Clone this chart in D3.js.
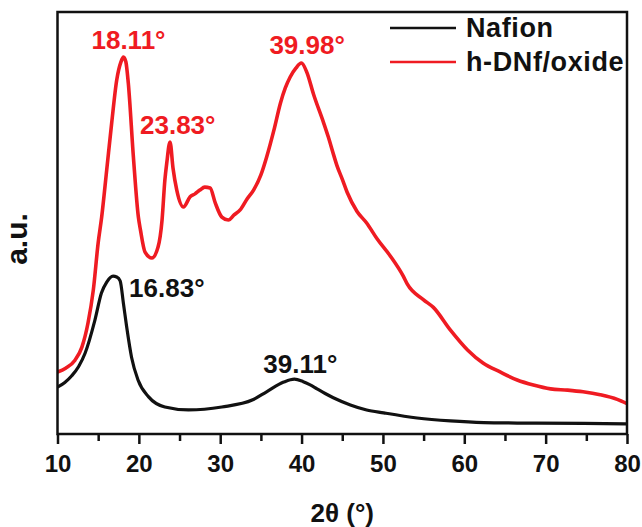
<!DOCTYPE html>
<html>
<head>
<meta charset="utf-8">
<script src="https://cdn.jsdelivr.net/npm/d3@7"></script>
<style>
  html, body { margin: 0; padding: 0; background: #fff; }
  svg { display: block; font-family: "Liberation Sans", Arial, Helvetica, sans-serif; }
</style>
</head>
<body>
<svg id="chart" width="642" height="527"></svg>
<script>
// XRD patterns: 2θ (degrees) and intensity (arbitrary units)
const nafionTheta = [10.0, 10.9, 11.75, 12.6, 13.4, 14.6, 15.4, 16.05, 16.83, 17.28, 17.7, 18.1, 18.5, 19.1, 19.9, 21.2, 23.2, 26.1, 30.2, 34.0, 35.7, 37.8, 39.11, 40.2, 41.0, 41.9, 42.9, 43.9, 46.0, 48.0, 50.1, 54.2, 58.3, 62.4, 66.5, 74.7, 80.0];
const nafionInt   = [111, 122, 138, 160, 192, 270, 334, 360, 374, 372, 363, 310, 254, 182, 128, 88, 64, 57, 64, 81, 100, 123, 130, 124, 117, 107, 96, 86, 69, 57, 50, 38, 31, 27, 26, 25, 24];

const oxideTheta = [10.0, 11.0, 12.15, 13.0, 13.75, 14.4, 15.0, 15.43, 16.05, 16.66, 17.28, 17.8, 18.11, 18.4, 18.7, 19.33, 19.94, 20.2, 20.76, 21.6, 22.36, 22.85, 23.2, 23.43, 23.83, 24.2, 24.66, 25.48, 26.3, 26.9, 27.5, 28.1, 28.76, 29.4, 30.2, 31.0, 31.7, 32.45, 33.3, 34.1, 35.0, 35.7, 36.6, 37.4, 38.0, 38.6, 39.3, 39.98, 40.65, 41.47, 42.7, 43.3, 43.93, 44.35, 45.0, 45.6, 46.8, 48.0, 49.3, 50.9, 52.5, 53.0, 55.0, 56.2, 58.3, 60.4, 62.3, 64.4, 66.5, 68.5, 70.6, 72.7, 74.6, 76.7, 78.8, 80.0];
const oxideInt   = [147, 156, 175, 206, 263, 341, 453, 514, 626, 737, 839, 882, 893, 882, 832, 656, 514, 483, 431, 417, 443, 507, 602, 642, 692, 630, 578, 538, 562, 569, 578, 585, 583, 547, 514, 507, 519, 531, 557, 578, 614, 656, 720, 784, 820, 846, 867, 879, 857, 805, 738, 703, 662, 636, 604, 573, 528, 500, 462, 422, 374, 355, 318, 300, 246, 199, 168, 147, 128, 116, 107, 104, 100, 93, 82, 72];

// Peak annotations
const peakLabels = ["18.11°", "23.83°", "39.98°", "16.83°", "39.11°"];
const peakTheta  = [18.11, 23.83, 39.98, 16.83, 39.11];
const peakSeries = ["oxide", "oxide", "oxide", "nafion", "nafion"];

const seriesNames  = ["Nafion", "h-DNf/oxide"];
const xTicks = [10, 20, 30, 40, 50, 60, 70, 80];
const xMinorTicks = [15, 25, 35, 45, 55, 65, 75];

const RED = "#ef1b22";
const BLACK = "#111";

const svg = d3.select("#chart");
const frame = { left: 57.5, right: 627, top: 12, bottom: 434 };

const x = d3.scaleLinear().domain([10, 80]).range([frame.left, frame.right]);
const y = d3.scaleLinear().domain([0, 1000]).range([frame.bottom, frame.top]);

const nafion = nafionTheta.map((t, i) => ({ t, v: nafionInt[i] }));
const oxide = oxideTheta.map((t, i) => ({ t, v: oxideInt[i] }));

const line = d3.line().x(d => x(d.t)).y(d => y(d.v)).curve(d3.curveMonotoneX);

svg.append("defs").append("clipPath").attr("id", "plotClip")
  .append("rect")
  .attr("x", frame.left).attr("y", frame.top)
  .attr("width", frame.right - frame.left).attr("height", frame.bottom - frame.top);

const plot = svg.append("g").attr("clip-path", "url(#plotClip)");
plot.append("path").datum(nafion)
  .attr("d", line).attr("fill", "none")
  .attr("stroke", BLACK).attr("stroke-width", 3.2).attr("stroke-linejoin", "round");
plot.append("path").datum(oxide)
  .attr("d", line).attr("fill", "none")
  .attr("stroke", RED).attr("stroke-width", 3.6).attr("stroke-linejoin", "round");

// Frame
svg.append("rect")
  .attr("x", frame.left).attr("y", frame.top)
  .attr("width", frame.right - frame.left).attr("height", frame.bottom - frame.top)
  .attr("fill", "none").attr("stroke", BLACK).attr("stroke-width", 2.5);

// Bottom axis: major and minor ticks
const xAxis = d3.axisBottom(x).tickValues(xTicks).tickSize(10).tickPadding(8).tickFormat(d3.format("d"));
const gx = svg.append("g").attr("transform", `translate(0,${frame.bottom})`).call(xAxis);
gx.select(".domain").remove();
gx.selectAll(".tick line").attr("stroke", BLACK).attr("stroke-width", 2.5);
gx.selectAll(".tick text")
  .attr("fill", BLACK).attr("font-size", 24).attr("font-weight", "bold")
  .attr("dy", null).attr("y", 38);

const gxm = svg.append("g").attr("transform", `translate(0,${frame.bottom})`)
  .call(d3.axisBottom(x).tickValues(xMinorTicks).tickSize(7).tickFormat(""));
gxm.select(".domain").remove();
gxm.selectAll(".tick line").attr("stroke", BLACK).attr("stroke-width", 2.5);

// Axis titles
svg.append("text")
  .attr("x", (frame.left + frame.right) / 2).attr("y", 522)
  .attr("text-anchor", "middle").attr("font-size", 26).attr("font-weight", "bold")
  .attr("fill", BLACK).text("2θ (°)");

svg.append("text")
  .attr("transform", `translate(27,${(frame.top + frame.bottom) / 2 + 16}) rotate(-90)`)
  .attr("text-anchor", "middle").attr("font-size", 30).attr("font-weight", "bold")
  .attr("fill", BLACK).text("a.u.");

// Peak labels, placed relative to each peak position
const labelOffsets = {
  "18.11°": { dx: -32, dy: -8 },
  "23.83°": { dx: -30, dy: -8 },
  "39.98°": { dx: -32, dy: -9 },
  "16.83°": { dx: 16, dy: 21 },
  "39.11°": { dx: -31, dy: -6 }
};
peakLabels.forEach((lab, i) => {
  const src = peakSeries[i] === "oxide" ? oxide : nafion;
  const pt = src.find(d => d.t === peakTheta[i]);
  const off = labelOffsets[lab];
  svg.append("text")
    .attr("x", x(pt.t) + off.dx).attr("y", y(pt.v) + off.dy)
    .attr("font-size", 26).attr("font-weight", "bold")
    .attr("fill", peakSeries[i] === "oxide" ? RED : BLACK)
    .text(lab);
});

// Legend
const legend = svg.append("g");
const legendColors = [BLACK, RED];
seriesNames.forEach((name, i) => {
  const cy = 28 + i * 34;
  legend.append("line")
    .attr("x1", 390).attr("x2", 456).attr("y1", cy).attr("y2", cy)
    .attr("stroke", legendColors[i]).attr("stroke-width", 2.5);
  legend.append("text")
    .attr("x", 466).attr("y", cy + 9)
    .attr("font-size", 27).attr("font-weight", "bold").attr("letter-spacing", 0.6)
    .attr("fill", BLACK)
    .text(name);
});
</script>
</body>
</html>
